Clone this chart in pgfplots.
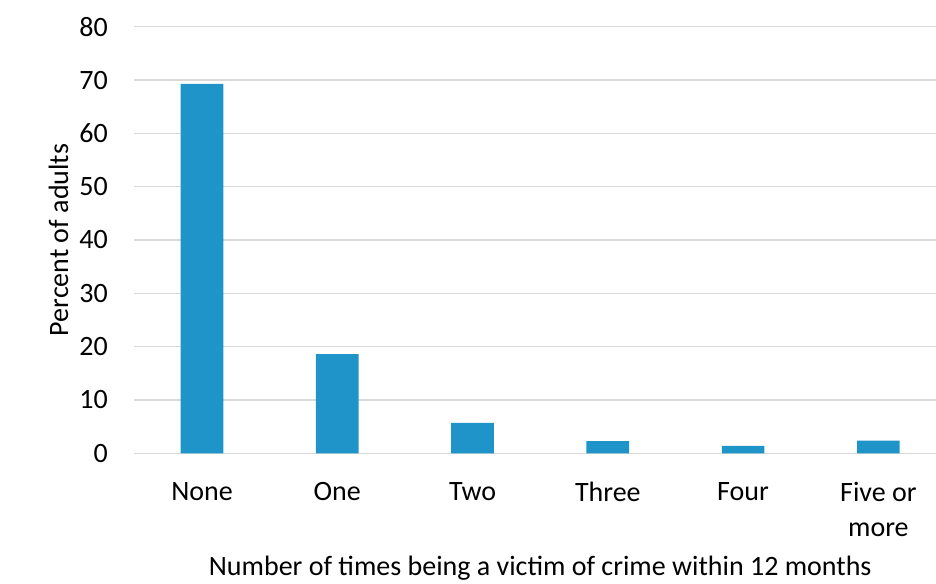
\documentclass[border=0pt]{standalone}
\usepackage{pgfplots}
\pgfplotsset{compat=1.18}
\usepackage{fontspec}
\setmainfont{Carlito}
\definecolor{barblue}{HTML}{1F94C9}
\definecolor{gridgray}{HTML}{D9D9D9}
\begin{document}
\begin{tikzpicture}
\begin{axis}[
  scale only axis,
  width=811.6pt, height=426.6pt,
  xmin=-0.5, xmax=5.5,
  ymin=0, ymax=80,
  ytick={0,10,...,80},
  xtick={0,1,2,3,4,5},
  xticklabels={None,One,Two,Three,Four,{Five or\\more}},
  ymajorgrids,
  grid style={draw=gridgray, line width=1.2pt},
  axis line style={draw=none},
  major tick length=0pt,
  /pgf/number format/assume math mode=true,
  tick label style={font=\fontsize{28}{35}\selectfont, text=black},
  yticklabel style={anchor=east, inner sep=0pt, xshift=-26.4pt},
  xticklabel style={anchor=north, inner sep=0pt, yshift=-28.7pt, align=center},
  label style={font=\fontsize{28}{35}\selectfont, text=black},
  xlabel={Number of times being a victim of crime within 12 months},
  xlabel style={at={(axis description cs:0.5,-0.2853)}, anchor=base, inner sep=0pt},
  ylabel={Percent of adults},
  ylabel style={at={(axis description cs:-0.0818,0.5)}, anchor=base, inner sep=0pt},
  clip=false,
]
\addplot[ybar, bar width=42.7pt, fill=barblue, draw=none] coordinates {
  (0,69.3) (1,18.6) (2,5.7) (3,2.3) (4,1.4) (5,2.4)
};
\end{axis}
\pgfresetboundingbox
\path[use as bounding box] (-134.4pt,-129.7pt) rectangle (801.6pt,453.3pt);
\end{tikzpicture}
\end{document}
